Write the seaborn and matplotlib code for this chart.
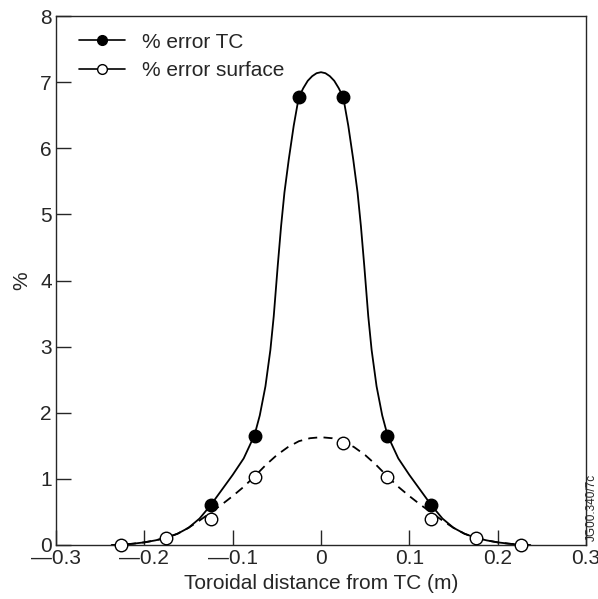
import matplotlib
matplotlib.use("Agg")
import matplotlib.pyplot as plt
from matplotlib.lines import Line2D
import seaborn as sns
import pandas as pd

# measured points
tc_x = [-0.125, -0.075, -0.025, 0.025, 0.075, 0.125]
tc_y = [0.60, 1.65, 6.77, 6.77, 1.65, 0.60]
surf_x = [-0.226, -0.175, -0.125, -0.075, 0.025, 0.075, 0.125, 0.175, 0.226]
surf_y = [0.0, 0.10, 0.40, 1.03, 1.55, 1.03, 0.40, 0.10, 0.0]

# fitted curves (one half, mirrored)
fit_tc_x = [0.0, 0.005, 0.01, 0.015, 0.02, 0.0252, 0.0309, 0.0365, 0.0414, 0.0452,
            0.049, 0.0535, 0.0573, 0.0629, 0.0693, 0.0753, 0.0875, 0.1,
            0.1125, 0.125, 0.1375, 0.15, 0.1625, 0.175, 0.1875, 0.2, 0.2125,
            0.225, 0.237]
fit_tc_y = [7.15, 7.135, 7.09, 7.02, 6.91, 6.77, 6.34, 5.83, 5.33, 4.82,
            4.22, 3.46, 2.95, 2.40, 1.96, 1.66, 1.31, 1.06,
            0.83, 0.60, 0.40, 0.26, 0.17, 0.11, 0.07, 0.04, 0.02,
            0.005, 0.0]
fit_surf_x = [0.0, 0.0125, 0.025, 0.0375, 0.05, 0.0625, 0.075, 0.0875, 0.1, 0.1125,
              0.125, 0.1375, 0.15, 0.1625, 0.175, 0.1875, 0.2, 0.2125, 0.225, 0.237]
fit_surf_y = [1.63, 1.615, 1.57, 1.48, 1.36, 1.21, 1.04, 0.88, 0.74, 0.61,
              0.49, 0.37, 0.26, 0.17, 0.11, 0.07, 0.04, 0.02, 0.005, 0.0]

xtick_vals = [-0.3, -0.2, -0.1, 0.0, 0.1, 0.2, 0.3]
xtick_labels = ["\u20140.3", "\u20140.2", "\u20140.1", "0", "0.1", "0.2", "0.3"]
ytick_vals = [0, 1, 2, 3, 4, 5, 6, 7, 8]

sns.set_style("ticks")
plt.rcParams["font.family"] = ["Liberation Sans", "DejaVu Sans"]

def mirror(xs, ys):
    xx = [-x for x in xs[::-1]] + xs[1:]
    yy = ys[::-1] + ys[1:]
    return xx, yy

ftx, fty = mirror(fit_tc_x, fit_tc_y)
fsx, fsy = mirror(fit_surf_x, fit_surf_y)
df_tc = pd.DataFrame({"x": ftx, "y": fty})
df_s = pd.DataFrame({"x": fsx, "y": fsy})

fig = plt.figure(figsize=(5.98, 5.99), dpi=100)
ax = fig.add_axes([56/598, 1-545/599, (586-56)/598, (545-16)/599])

sns.lineplot(data=df_tc, x="x", y="y", ax=ax, color="black", lw=1.3, sort=False)
sns.lineplot(data=df_s, x="x", y="y", ax=ax, color="black", lw=1.3, sort=False,
             linestyle=(0, (5, 3.5)))
ax.plot(tc_x, tc_y, "o", ms=9, mfc="black", mec="black", zorder=5, clip_on=False)
ax.plot(surf_x, surf_y, "o", ms=9, mfc="white", mec="black", mew=1.0, zorder=5, clip_on=False)

ax.set_xlim(-0.3, 0.3)
ax.set_ylim(0, 8)
ax.set_xticks(xtick_vals)
ax.set_xticklabels(xtick_labels)
ax.set_yticks(ytick_vals)
ax.tick_params(direction="in", length=11, width=1, labelsize=15, pad=3,
               top=False, right=False)
for s in ax.spines.values():
    s.set_linewidth(1.0)
    s.set_visible(True)
ax.set_xlabel("Toroidal distance from TC (m)", fontsize=15, labelpad=4)
ax.set_ylabel("%", fontsize=15, labelpad=6)

handles = [
    Line2D([], [], color="black", lw=1.2, marker="o", ms=7, mfc="black", mec="black"),
    Line2D([], [], color="black", lw=1.2, marker="o", ms=7, mfc="white", mec="black"),
]
ax.legend(handles, ["% error TC", "% error surface"], loc="upper left",
          frameon=False, fontsize=15, handlelength=2.2, borderaxespad=0.4,
          handletextpad=0.8, labelspacing=0.45, borderpad=0.4,
          bbox_to_anchor=(0.012, 1.0))

fig.text(592/598, 1-507/599, "JG00.340/7c", rotation=90, fontsize=8.5,
         ha="center", va="center")

fig.savefig("out.png", dpi=100)
